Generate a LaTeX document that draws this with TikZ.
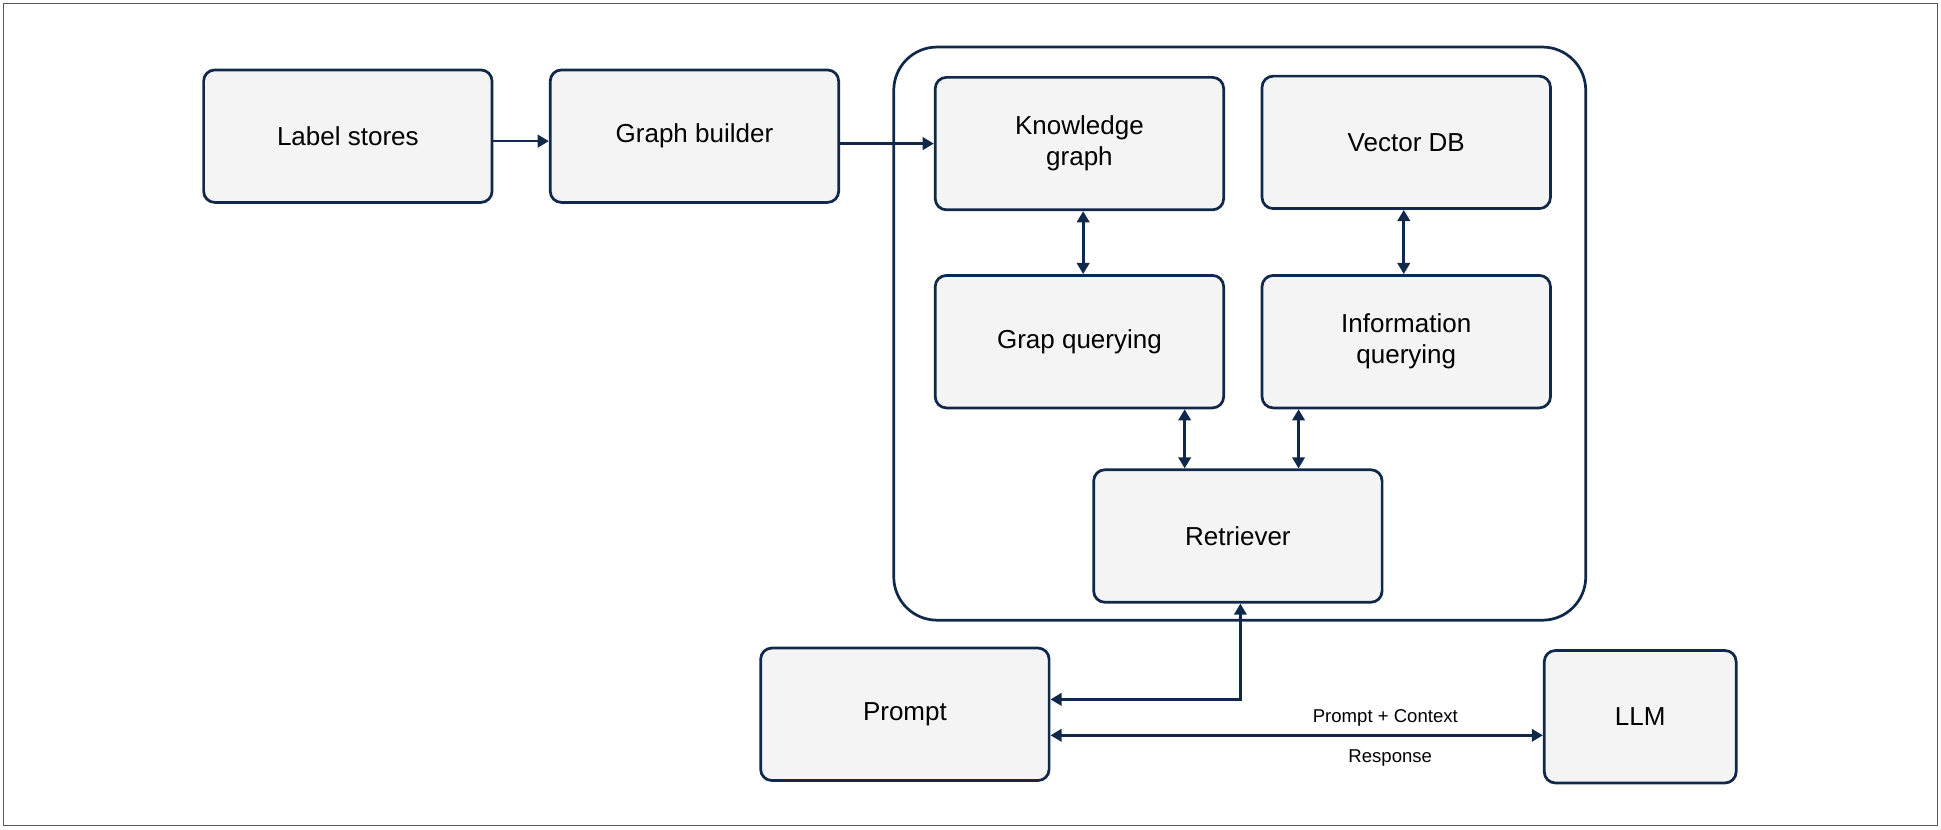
\documentclass[tikz,border=0pt]{standalone}
\usepackage{fontspec}
\setmainfont{Liberation Sans}
\usetikzlibrary{arrows.meta}
\definecolor{navy}{HTML}{10294A}
\definecolor{boxgray}{HTML}{F4F4F4}
\tikzset{
  blk/.style={draw=navy, line width=2.2pt, fill=boxgray, rounded corners=9pt,
    minimum width=233pt, minimum height=107pt, align=center, font=\fontsize{21}{25}\selectfont},
  link/.style={draw=navy, line width=2.2pt, -{Triangle[length=9pt,width=10pt]}},
  dlink/.style={link, {Triangle[length=9pt,width=10pt]}-{Triangle[length=9pt,width=10pt]}},
  lbl/.style={font=\fontsize{15}{18}\selectfont}
}
\begin{document}
\begin{tikzpicture}[x=1pt, y=-1pt]
\useasboundingbox (0,0) rectangle (1568,670);
\draw[gray!70!black, line width=1pt] (3,3) rectangle (1565,667);
\node (store) [draw=navy, line width=2.2pt, rounded corners=35pt, minimum width=559pt, minimum height=463pt] at (1001.5,269.5) {};
\node (labels) [blk] at (281,110) {Label stores};
\node (builder) [blk] at (561,110) {Graph builder};
\node (kgraph) [blk] at (872,116) {Knowledge\\graph};
\node (vecdb) [blk] at (1136,115) {Vector DB};
\node (gquery) [blk] at (872,276) {Grap querying};
\node (iquery) [blk] at (1136,276) {Information\\querying};
\node (retr) [blk] at (1000,433) {Retriever};
\node (prompt) [blk] at (731,577) {Prompt};
\node (llm) [blk, minimum width=155pt] at (1325,579) {LLM};
\draw[link] (labels.east |- 0,114) -- (builder.west |- 0,114);
\draw[link] (builder.east |- 0,116) -- (kgraph.west |- 0,116);
\draw[dlink] (kgraph.south -| 875,0) -- (gquery.north -| 875,0);
\draw[dlink] (vecdb.south -| 1134,0) -- (iquery.north -| 1134,0);
\draw[dlink] (gquery.south -| 957,0) -- (retr.north -| 957,0);
\draw[dlink] (iquery.south -| 1049,0) -- (retr.north -| 1049,0);
\draw[dlink] (retr.south -| 1002,0) |- (prompt.east |- 0,565);
\draw[dlink] (prompt.east |- 0,594) -- (llm.west |- 0,594)
  node[lbl, pos=0.68, above=3pt] {Prompt + Context}
  node[lbl, pos=0.69, below=7pt] {Response};
\end{tikzpicture}
\end{document}
